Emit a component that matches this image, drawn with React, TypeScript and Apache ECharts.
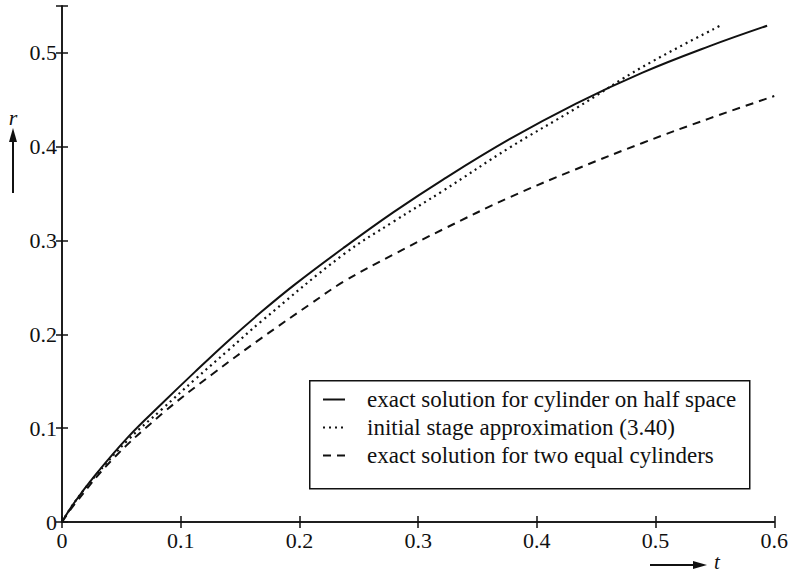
import React, { useEffect, useRef } from "react";
import * as echarts from "echarts";

const xTicks = [0, 0.1, 0.2, 0.3, 0.4, 0.5, 0.6];
const yTicks = [0, 0.1, 0.2, 0.3, 0.4, 0.5];

const seriesNames = [
  "exact solution for cylinder on half space",
  "initial stage approximation (3.40)",
  "exact solution for two equal cylinders",
];

const halfSpace: [number, number][] = [
  [0, 0], [0.01, 0.02], [0.028, 0.05], [0.056, 0.091], [0.084, 0.126],
  [0.112, 0.16], [0.14, 0.193], [0.168, 0.224], [0.196, 0.253], [0.237, 0.292],
  [0.279, 0.33], [0.321, 0.365], [0.377, 0.408], [0.433, 0.446], [0.489, 0.479],
  [0.545, 0.507], [0.594, 0.529],
];

const initialStage: [number, number][] = [
  [0, 0], [0.01, 0.02], [0.028, 0.049], [0.056, 0.088], [0.084, 0.12],
  [0.112, 0.152], [0.14, 0.183], [0.168, 0.214], [0.237, 0.285], [0.279, 0.32],
  [0.321, 0.353], [0.377, 0.399], [0.433, 0.441], [0.489, 0.485], [0.556, 0.53],
];

const twoCylinders: [number, number][] = [
  [0, 0], [0.01, 0.018], [0.042, 0.066], [0.084, 0.115], [0.126, 0.157],
  [0.168, 0.196], [0.21, 0.233], [0.237, 0.256], [0.279, 0.285], [0.321, 0.312],
  [0.377, 0.346], [0.433, 0.376], [0.489, 0.404], [0.545, 0.43], [0.6, 0.454],
];

const FONT = "'Liberation Serif', 'DejaVu Serif', serif";
const INK = "#111";

export default function App() {
  const ref = useRef<HTMLDivElement>(null);
  useEffect(() => {
    if (!ref.current) return;
    const chart = echarts.init(ref.current, null, { renderer: "svg" });
    const fmt = (ticks: number[]) => (v: number) => {
      const hit = ticks.find((t) => Math.abs(t - v) < 1e-9);
      if (hit === undefined) return "";
      return hit === 0 ? "0" : hit.toFixed(1);
    };
    const axisLine = { show: true, lineStyle: { color: INK, width: 1.5 } };
    const tick = { show: true, inside: true, length: 6, lineStyle: { color: INK, width: 1.5 } };
    const lbl = { color: INK, fontFamily: FONT, fontSize: 22 };
    chart.setOption({
      animation: false,
      backgroundColor: "#fff",
      color: [INK, INK, INK],
      grid: { left: 62, right: 13, top: 6, bottom: 53 },
      xAxis: [
        {
          type: "value", min: 0, max: 0.6, interval: 0.1, position: "bottom",
          axisLine, axisTick: tick, splitLine: { show: false },
          axisLabel: { ...lbl, margin: 7, formatter: fmt(xTicks) },
        },
        {
          type: "value", min: 0, max: 0.6, interval: 0.1, position: "top",
          axisLine, axisTick: tick, splitLine: { show: false },
          axisLabel: { show: false },
        },
      ],
      yAxis: [
        {
          type: "value", min: 0, max: 0.55, interval: 0.1, position: "left",
          axisLine, axisTick: tick, splitLine: { show: false },
          axisLabel: { ...lbl, margin: 5, formatter: fmt(yTicks) },
        },
        {
          type: "value", min: 0, max: 0.55, interval: 0.1, position: "right",
          axisLine, axisTick: tick, splitLine: { show: false },
          axisLabel: { show: false },
        },
      ],
      legend: {
        orient: "vertical",
        left: 322,
        top: 388,
        itemWidth: 22,
        itemHeight: 14,
        itemGap: 5,
        padding: 0,
        selectedMode: false,
        data: seriesNames,
        itemStyle: { opacity: 0 },
        textStyle: { color: INK, fontFamily: FONT, fontSize: 23, lineHeight: 23, padding: [0, 0, 0, 17] },
      },
      series: [
        {
          name: seriesNames[0], type: "line", data: halfSpace, smooth: 0.4,
          symbol: "none", itemStyle: { color: INK }, lineStyle: { color: INK, width: 2, type: "solid" },
        },
        {
          name: seriesNames[1], type: "line", data: initialStage, smooth: 0.4,
          symbol: "none", itemStyle: { color: INK }, lineStyle: { color: INK, width: 2.2, type: [2, 4] },
        },
        {
          name: seriesNames[2], type: "line", data: twoCylinders, smooth: 0.4,
          symbol: "none", itemStyle: { color: INK }, lineStyle: { color: INK, width: 2, type: [8, 6] },
        },
      ],
      graphic: [
        {
          type: "rect", left: 309, top: 380, z: 0,
          shape: { width: 440, height: 108 },
          style: { fill: "#fff", stroke: INK, lineWidth: 1.5 },
        },
        {
          type: "text", x: 13, y: 117,
          style: { text: "r", fill: INK, font: "italic 22px " + FONT, align: "center", verticalAlign: "middle" },
        },
        { type: "line", shape: { x1: 13, y1: 193, x2: 13, y2: 140 }, style: { stroke: INK, lineWidth: 2 } },
        { type: "polygon", shape: { points: [[13, 128], [9, 142], [17, 142]] }, style: { fill: INK } },
        { type: "line", shape: { x1: 650, y1: 565, x2: 694, y2: 565 }, style: { stroke: INK, lineWidth: 2 } },
        { type: "polygon", shape: { points: [[707, 565], [693, 561], [693, 569]] }, style: { fill: INK } },
        {
          type: "text", x: 717, y: 572,
          style: { text: "t", fill: INK, font: "italic 21px " + FONT, align: "center", verticalAlign: "bottom" },
        },
      ],
    });
    return () => chart.dispose();
  }, []);
  return (
    <div
      ref={ref}
      style={{ position: "fixed", left: 0, top: 0, width: 791, height: 575, background: "#fff" }}
    />
  );
}
